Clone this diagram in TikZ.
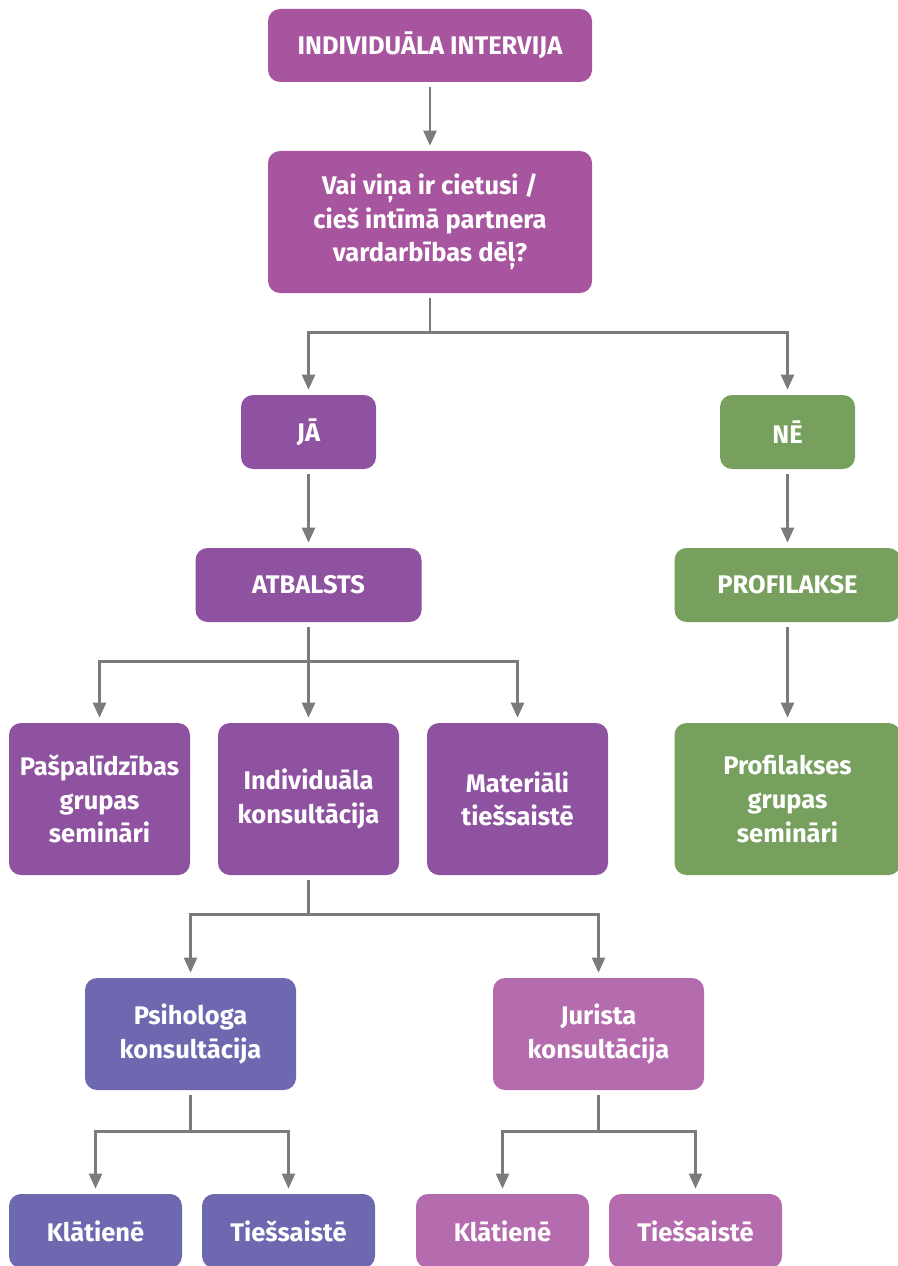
\documentclass[tikz,border=0pt]{standalone}
\usepackage{fontspec}
\setmainfont{Fira Sans}
\usetikzlibrary{arrows.meta}

\definecolor{topviolet}{RGB}{168,85,160}
\definecolor{yesviolet}{RGB}{142,82,160}
\definecolor{nogreen}{RGB}{119,160,94}
\definecolor{psyblue}{RGB}{110,104,176}
\definecolor{lawpink}{RGB}{180,108,174}
\definecolor{linegray}{RGB}{122,123,126}

\begin{document}
\begin{tikzpicture}[
  block/.style={rectangle, rounded corners=0.24cm, text=white, align=center, inner sep=0pt,
    font=\bfseries\fontsize{14.5}{19.2}\selectfont},
  line/.style={draw=linegray, line width=1.4pt, -{Triangle[width=0.26cm,length=0.3cm]},
    shorten <=0.1cm, shorten >=0.1cm},
  node distance=3cm
]
\useasboundingbox (0,0) rectangle (17.96,-25.32);

\node[block, fill=topviolet, minimum width=6.48cm, minimum height=1.46cm] (intv) at (8.6,-0.91) {INDIVIDUĀLA INTERVIJA};
\node[block, fill=topviolet, minimum width=6.48cm, minimum height=2.84cm, below of=intv, node distance=3.53cm] (quest) {Vai viņa ir cietusi /\\cieš intīmā partnera\\vardarbības dēļ?};

\node[block, fill=yesviolet, minimum width=2.7cm, minimum height=1.48cm, below of=quest, node distance=4.2cm, xshift=-2.43cm] (ja) {JĀ};
\node[block, fill=nogreen, minimum width=2.7cm, minimum height=1.48cm, right of=ja, node distance=9.58cm] (ne) {NĒ};

\node[block, fill=yesviolet, minimum width=4.52cm, minimum height=1.48cm, below of=ja, node distance=3.06cm] (atb) {ATBALSTS};
\node[block, fill=nogreen, minimum width=4.52cm, minimum height=1.48cm, below of=ne, node distance=3.06cm] (prof) {PROFILAKSE};

\node[block, fill=yesviolet, minimum width=3.62cm, minimum height=3.04cm, below of=atb, node distance=4.28cm] (indiv) {Individuāla\\konsultācija};
\node[block, fill=yesviolet, minimum width=3.62cm, minimum height=3.04cm, left of=indiv, node distance=4.18cm] (pasp) {Pašpalīdzības\\grupas\\semināri};
\node[block, fill=yesviolet, minimum width=3.62cm, minimum height=3.04cm, right of=indiv, node distance=4.18cm] (mater) {Materiāli\\tiešsaistē};
\node[block, fill=nogreen, minimum width=4.52cm, minimum height=3.04cm, below of=prof, node distance=4.28cm] (profgr) {Profilakses\\grupas\\semināri};

\node[block, fill=psyblue, minimum width=4.22cm, minimum height=2.24cm, below of=indiv, node distance=4.7cm, xshift=-2.36cm] (psih) {Psihologa\\konsultācija};
\node[block, fill=lawpink, minimum width=4.22cm, minimum height=2.24cm, right of=psih, node distance=8.16cm] (jur) {Jurista\\konsultācija};

\node[block, fill=psyblue, minimum width=3.46cm, minimum height=1.48cm, below of=psih, node distance=3.94cm, xshift=-1.9cm] (k1) {Klātienē};
\node[block, fill=psyblue, minimum width=3.46cm, minimum height=1.48cm, right of=k1, node distance=3.86cm] (t1) {Tiešsaistē};
\node[block, fill=lawpink, minimum width=3.46cm, minimum height=1.48cm, below of=jur, node distance=3.94cm, xshift=-1.92cm] (k2) {Klātienē};
\node[block, fill=lawpink, minimum width=3.46cm, minimum height=1.48cm, right of=k2, node distance=3.86cm] (t2) {Tiešsaistē};

\draw[line] (intv) -- (quest);
\draw[line] (quest.south) -- ++(0,-0.78) -| (ja.north);
\draw[line] (quest.south) -- ++(0,-0.78) -| (ne.north);
\draw[line] (ja) -- (atb);
\draw[line] (ne) -- (prof);
\draw[line] (atb.south) -- ++(0,-0.78) -| (pasp.north);
\draw[line] (atb) -- (indiv);
\draw[line] (atb.south) -- ++(0,-0.78) -| (mater.north);
\draw[line] (prof) -- (profgr);
\draw[line] (indiv.south) -- ++(0,-0.78) -| (psih.north);
\draw[line] (indiv.south) -- ++(0,-0.78) -| (jur.north);
\draw[line] (psih.south) -- ++(0,-0.82) -| (k1.north);
\draw[line] (psih.south) -- ++(0,-0.82) -| (t1.north);
\draw[line] (jur.south) -- ++(0,-0.82) -| (k2.north);
\draw[line] (jur.south) -- ++(0,-0.82) -| (t2.north);
\end{tikzpicture}
\end{document}
